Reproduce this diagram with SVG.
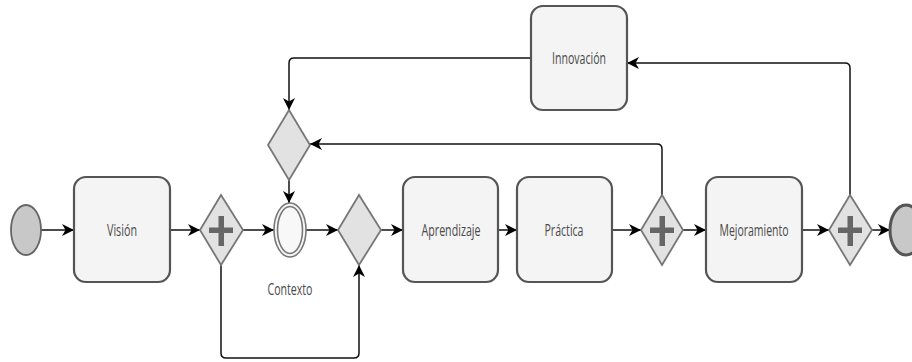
<svg xmlns="http://www.w3.org/2000/svg" width="912" height="362" viewBox="0 0 912 362">
<style>
.task{fill:#f4f4f4;stroke:#555;stroke-width:2.2}
.gw{fill:#e2e2e2;stroke:#777;stroke-width:1.8}
.plus{fill:#666}
.lbl{font-family:"Open Sans","DejaVu Sans",sans-serif;font-size:17px;fill:#4a4a4a;text-anchor:middle}
.con{fill:none;stroke:#111;stroke-width:1.5}
</style>
<defs>
<marker id="arr" markerUnits="userSpaceOnUse" markerWidth="14" markerHeight="12" refX="12" refY="6" orient="auto">
<path d="M0,0 L12,6 L0,12 L3.5,6 z" fill="#000"/>
</marker>
</defs>
<g id="connectors">
<path class="con" marker-end="url(#arr)" d="M41,230 H74"/>
<path class="con" marker-end="url(#arr)" d="M170,230 H200"/>
<path class="con" marker-end="url(#arr)" d="M243,230 H274"/>
<path class="con" marker-end="url(#arr)" d="M306,230 H338"/>
<path class="con" marker-end="url(#arr)" d="M381,230 H403"/>
<path class="con" marker-end="url(#arr)" d="M498,230 H517"/>
<path class="con" marker-end="url(#arr)" d="M612,230 H641"/>
<path class="con" marker-end="url(#arr)" d="M683,230 H706"/>
<path class="con" marker-end="url(#arr)" d="M802,230 H829"/>
<path class="con" marker-end="url(#arr)" d="M872,230 H890"/>
<path class="con" marker-end="url(#arr)" d="M531,58 H294 Q289,58 289,63 V110"/>
<path class="con" marker-end="url(#arr)" d="M662,195 V149 Q662,144 657,144 H310"/>
<path class="con" marker-end="url(#arr)" d="M850,195 V68 Q850,63 845,63 H627"/>
<path class="con" marker-end="url(#arr)" d="M289,180 V203"/>
<path class="con" marker-end="url(#arr)" d="M221,265 V353 Q221,358 226,358 H354 Q359,358 359,353 V265"/>
</g>
<g id="start"><ellipse cx="26" cy="230" rx="15" ry="25" fill="#c8c8c8" stroke="#666" stroke-width="1.8"/></g>
<g id="vision"><rect class="task" x="74" y="177" width="96" height="105" rx="12"/><text class="lbl" x="122" y="236" textLength="30" lengthAdjust="spacingAndGlyphs">Visión</text></g>
<g id="gw1"><polygon class="gw" points="221,195 243,230 221,265 200,230"/><rect class="plus" x="209" y="227.5" width="24" height="5.5"/><rect class="plus" x="218.5" y="216" width="5.5" height="30"/></g>
<g id="contexto"><ellipse cx="290" cy="230" rx="16" ry="27" fill="#f6f6f6" stroke="#777" stroke-width="1.6"/><ellipse cx="290" cy="230" rx="12.5" ry="23.5" fill="#f8f8f8" stroke="#777" stroke-width="1.6"/><text class="lbl" x="290" y="295" textLength="45" lengthAdjust="spacingAndGlyphs">Contexto</text></g>
<g id="gwtop"><polygon class="gw" points="289,110 310,145 289,180 268,145"/></g>
<g id="gw2"><polygon class="gw" points="359,195 381,230 359,265 338,230"/></g>
<g id="aprendizaje"><rect class="task" x="403" y="177" width="95" height="105" rx="12"/><text class="lbl" x="451" y="236" textLength="59" lengthAdjust="spacingAndGlyphs">Aprendizaje</text></g>
<g id="practica"><rect class="task" x="517" y="177" width="95" height="105" rx="12"/><text class="lbl" x="564" y="236" textLength="39" lengthAdjust="spacingAndGlyphs">Práctica</text></g>
<g id="gw3"><polygon class="gw" points="662,195 683,230 662,265 641,230"/><rect class="plus" x="650" y="227.5" width="24" height="5.5"/><rect class="plus" x="659.5" y="216" width="5.5" height="30"/></g>
<g id="mejoramiento"><rect class="task" x="706" y="177" width="96" height="105" rx="12"/><text class="lbl" x="754" y="236" textLength="69" lengthAdjust="spacingAndGlyphs">Mejoramiento</text></g>
<g id="gw4"><polygon class="gw" points="850,195 872,230 850,265 829,230"/><rect class="plus" x="838" y="227.5" width="24" height="5.5"/><rect class="plus" x="847.5" y="216" width="5.5" height="30"/></g>
<g id="end"><ellipse cx="906" cy="230" rx="16" ry="25" fill="#c8c8c8" stroke="#555" stroke-width="3"/></g>
<g id="innovacion"><rect class="task" x="531" y="6" width="96" height="104" rx="12"/><text class="lbl" x="579" y="64" textLength="54" lengthAdjust="spacingAndGlyphs">Innovación</text></g>
</svg>
